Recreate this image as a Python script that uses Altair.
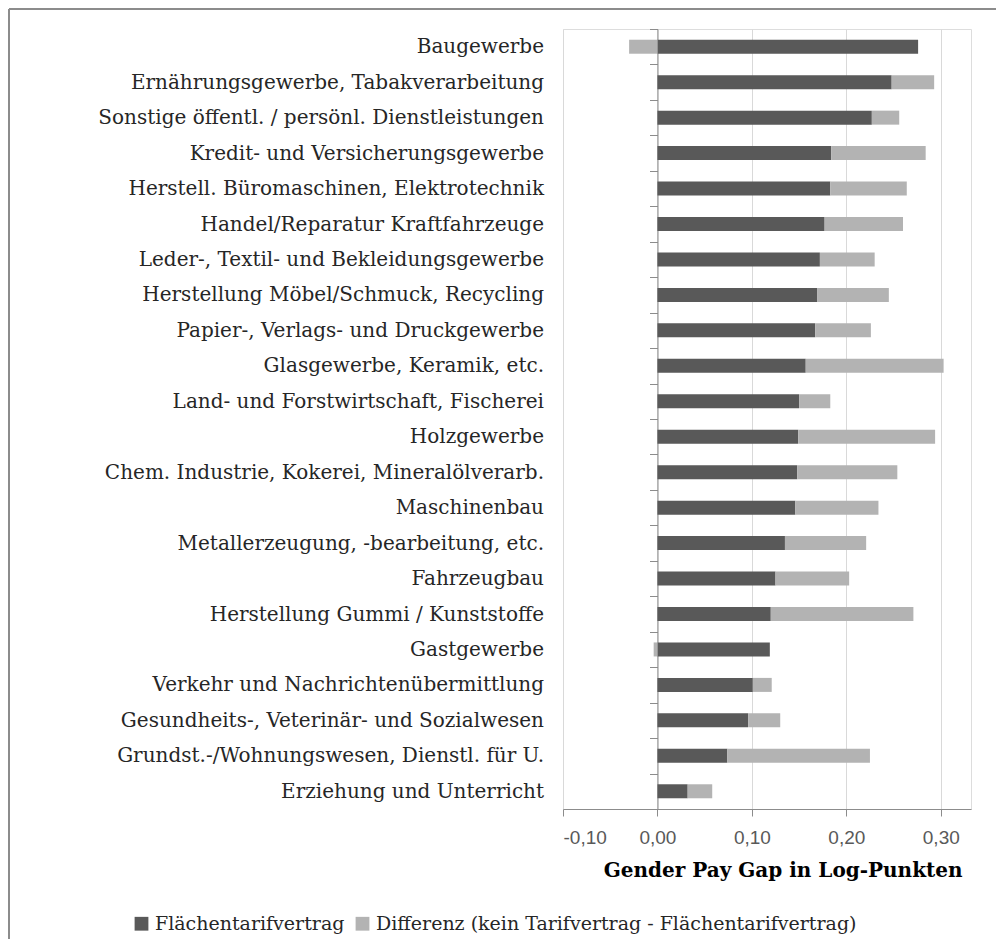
import altair as alt
import pandas as pd

categories = [
    "Baugewerbe",
    "Ernährungsgewerbe, Tabakverarbeitung",
    "Sonstige öffentl. / persönl. Dienstleistungen",
    "Kredit- und Versicherungsgewerbe",
    "Herstell. Büromaschinen, Elektrotechnik",
    "Handel/Reparatur Kraftfahrzeuge",
    "Leder-, Textil- und Bekleidungsgewerbe",
    "Herstellung Möbel/Schmuck, Recycling",
    "Papier-, Verlags- und Druckgewerbe",
    "Glasgewerbe, Keramik, etc.",
    "Land- und Forstwirtschaft, Fischerei",
    "Holzgewerbe",
    "Chem. Industrie, Kokerei, Mineralölverarb.",
    "Maschinenbau",
    "Metallerzeugung, -bearbeitung, etc.",
    "Fahrzeugbau",
    "Herstellung Gummi / Kunststoffe",
    "Gastgewerbe",
    "Verkehr und Nachrichtenübermittlung",
    "Gesundheits-, Veterinär- und Sozialwesen",
    "Grundst.-/Wohnungswesen, Dienstl. für U.",
    "Erziehung und Unterricht",
]

flaechentarif = [0.276, 0.248, 0.227, 0.184, 0.183, 0.177, 0.172, 0.169, 0.167, 0.157,
                 0.150, 0.149, 0.148, 0.146, 0.135, 0.125, 0.120, 0.119, 0.101, 0.096,
                 0.074, 0.032]
kein_tarif = [0.246, 0.293, 0.256, 0.284, 0.264, 0.260, 0.230, 0.245, 0.226, 0.303,
              0.183, 0.294, 0.254, 0.234, 0.221, 0.203, 0.271, 0.115, 0.121, 0.130,
              0.225, 0.058]

series = ["Flächentarifvertrag", "Differenz (kein Tarifvertrag - Flächentarifvertrag)"]
colors = ["#595959", "#b3b3b3"]
x_ticks = [-0.1, 0.0, 0.1, 0.2, 0.3]

rows = []
for c, f, k in zip(categories, flaechentarif, kein_tarif):
    rows.append({"Branche": c, "Serie": series[0], "Wert": f, "ord": 0})
    rows.append({"Branche": c, "Serie": series[1], "Wert": round(k - f, 3), "ord": 1})
df = pd.DataFrame(rows)

PLOT_L, PLOT_T = 563, 29
W, H = 408, 780

bars = alt.Chart(df).mark_bar(size=14).encode(
    y=alt.Y("Branche:N", sort=categories,
            scale=alt.Scale(paddingInner=0, paddingOuter=0),
            axis=alt.Axis(title=None, offset=-94.5, tickBand="extent", tickSize=8,
                          labelPadding=106, labelFont="DejaVu Serif", labelFontSize=20,
                          labelColor="#262626", domainColor="#8c8c8c", tickColor="#8c8c8c",
                          grid=False, labelLimit=600)),
    x=alt.X("Wert:Q", stack="zero",
            scale=alt.Scale(domain=[-0.1, 0.332], nice=False, zero=False),
            axis=alt.Axis(values=x_ticks, title="Gender Pay Gap in Log-Punkten",
                          labelExpr="replace(replace(format(datum.value, '.2f'), '.', ','), '\u2212', '-')",
                          labelFont="Liberation Sans", labelFontSize=19, labelColor="#595959",
                          labelPadding=12, tickSize=7, tickColor="#8c8c8c",
                          domainColor="#8c8c8c", grid=True, gridColor="#d9d9d9",
                          titleFont="DejaVu Serif", titleFontSize=20, titleFontWeight="bold",
                          titleColor="#000000", titleAnchor="end", titleAlign="right",
                          titleX=399, titleY=67, titleBaseline="alphabetic")),
    color=alt.Color("Serie:N", sort=series,
                    scale=alt.Scale(domain=series, range=colors),
                    legend=alt.Legend(title=None, orient="none", direction="horizontal",
                                      legendX=-431, legendY=885, symbolType="square",
                                      symbolSize=190, symbolStrokeWidth=0,
                                      labelFont="DejaVu Serif", labelFontSize=19,
                                      labelColor="#262626", labelOffset=4,
                                      columnPadding=8, labelLimit=700)),
    order=alt.Order("ord:Q"),
)

frame = pd.DataFrame({"a": [0]})
left_border = alt.Chart(frame).mark_rule(color="#8c8c8c", strokeWidth=2).encode(
    x=alt.value(9 - PLOT_L), y=alt.value(9 - PLOT_T), y2=alt.value(950 - PLOT_T))
top_border = alt.Chart(frame).mark_rule(color="#8c8c8c", strokeWidth=2).encode(
    x=alt.value(9 - PLOT_L), x2=alt.value(1006 - PLOT_L), y=alt.value(9 - PLOT_T))

chart = alt.layer(bars, left_border, top_border).properties(
    width=W, height=H,
    autosize=alt.AutoSizeParams(type="none"),
    padding={"left": PLOT_L - 8, "top": PLOT_T - 8, "right": 25, "bottom": 130},
).configure_view(stroke=None).configure(background="white")

chart.save("out.html", embed_options={"renderer": "svg", "actions": False})
